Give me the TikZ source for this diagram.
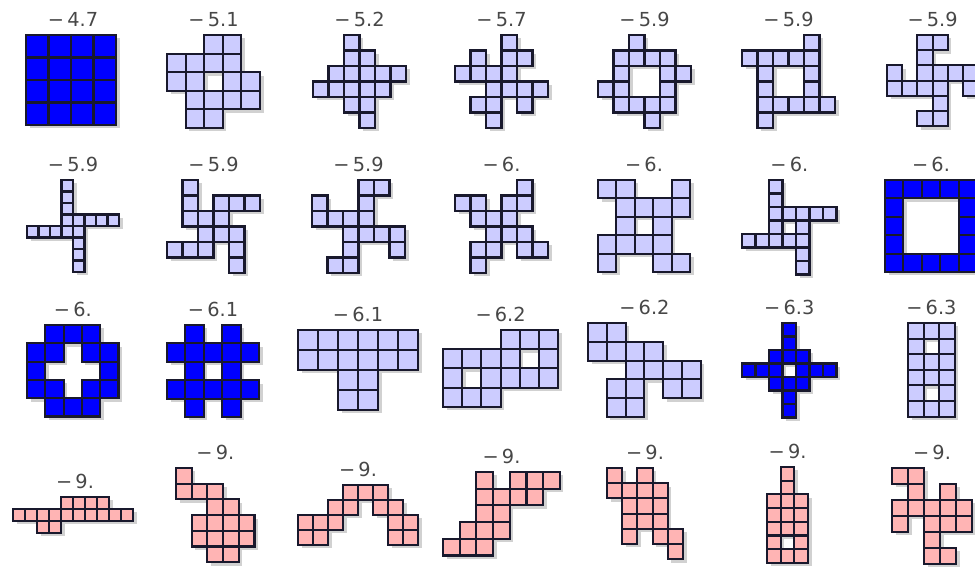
\documentclass[tikz,border=0pt]{standalone}
\usepackage{fontspec}
\setmainfont{DejaVu Sans}
\usetikzlibrary{positioning}

\definecolor{lavender}{RGB}{204,204,255}
\definecolor{rose}{RGB}{255,180,180}
\definecolor{edge}{RGB}{25,25,45}

% shadow first, then the cells on top
\newcommand{\polyo}[4]{%
  \begin{scope}[shift={#1}]
    \foreach \i/\j in {#4}
      \fill[shade] ({\i*#2+3.5},{\j*#2+3.5}) rectangle +(#2,#2);
    \foreach \i/\j in {#4}
      \draw[#3] ({\i*#2},{\j*#2}) rectangle +(#2,#2);
  \end{scope}}

\begin{document}
\begin{tikzpicture}[x=0.02cm, y=-0.02cm,
  cell/.style={draw=edge, line width=1.2pt},
  lav/.style={cell, fill=lavender},
  blu/.style={cell, fill=blue},
  pnk/.style={cell, fill=rose},
  shade/.style={fill=black!18},
  score/.style={font=\fontsize{11}{13}\selectfont, text=black!72, inner sep=0pt, anchor=base}
]
\useasboundingbox (0,0) rectangle (975,567);
\clip (0,0) rectangle (975,567);

% row 1
\polyo{(26,35)}{22.5}{blu}{0/0,1/0,2/0,3/0,0/1,1/1,2/1,3/1,0/2,1/2,2/2,3/2,0/3,1/3,2/3,3/3}
\polyo{(167,35)}{18.6}{lav}{2/0,3/0,0/1,1/1,2/1,3/1,0/2,1/2,3/2,4/2,1/3,2/3,3/3,4/3,1/4,2/4}
\polyo{(313,35)}{15.5}{lav}{2/0,2/1,3/1,1/2,2/2,3/2,4/2,5/2,0/3,1/3,2/3,3/3,4/3,2/4,3/4,3/5}
\polyo{(455,35)}{15.5}{lav}{3/0,1/1,3/1,4/1,0/2,1/2,2/2,3/2,2/3,3/3,4/3,5/3,1/4,2/4,4/4,2/5}
\polyo{(598,35)}{15.5}{lav}{2/0,1/1,2/1,3/1,4/1,1/2,4/2,5/2,0/3,1/3,4/3,1/4,2/4,3/4,4/4,3/5}
\polyo{(742,35)}{15.5}{lav}{4/0,0/1,1/1,2/1,3/1,4/1,1/2,4/2,1/3,4/3,1/4,2/4,3/4,4/4,5/4,1/5}
\polyo{(887,35)}{15.2}{lav}{2/0,3/0,2/1,0/2,2/2,3/2,4/2,5/2,0/3,1/3,2/3,3/3,5/3,3/4,2/5,3/5}

% row 2
\polyo{(27,180)}{11.5}{lav}{3/0,3/1,3/2,3/3,4/3,5/3,6/3,7/3,0/4,1/4,2/4,3/4,4/4,4/5,4/6,4/7}
\polyo{(167,180)}{15.5}{lav}{1/0,1/1,3/1,4/1,5/1,1/2,2/2,3/2,2/3,3/3,4/3,0/4,1/4,2/4,4/4,4/5}
\polyo{(312,180)}{15.5}{lav}{3/0,4/0,0/1,3/1,0/2,1/2,2/2,3/2,2/3,3/3,4/3,5/3,2/4,5/4,1/5,2/5}
\polyo{(455,180)}{15.5}{lav}{4/0,0/1,1/1,3/1,4/1,1/2,2/2,3/2,2/3,3/3,4/3,1/4,2/4,4/4,5/4,1/5}
\polyo{(598,180)}{18.4}{lav}{0/0,1/0,4/0,1/1,2/1,3/1,4/1,1/2,3/2,0/3,1/3,2/3,3/3,0/4,3/4,4/4}
\polyo{(742,180)}{13.5}{lav}{2/0,2/1,2/2,3/2,4/2,5/2,6/2,2/3,4/3,0/4,1/4,2/4,3/4,4/4,4/5,4/6}
\polyo{(885,180)}{18.4}{blu}{0/0,1/0,2/0,3/0,4/0,0/1,4/1,0/2,4/2,0/3,4/3,0/4,1/4,2/4,3/4,4/4}

% row 3
\polyo{(27,325)}{18.3}{blu}{1/0,2/0,3/0,0/1,1/1,3/1,4/1,0/2,4/2,0/3,1/3,3/3,4/3,1/4,2/4,3/4}
\polyo{(167,325)}{18.4}{blu}{1/0,3/0,0/1,1/1,2/1,3/1,4/1,1/2,3/2,0/3,1/3,2/3,3/3,4/3,1/4,3/4}
\polyo{(298,330)}{20}{lav}{0/0,1/0,2/0,3/0,4/0,5/0,0/1,1/1,2/1,3/1,4/1,5/1,2/2,3/2,2/3,3/3}
\polyo{(443,330)}{19.2}{lav}{3/0,4/0,5/0,0/1,1/1,2/1,3/1,5/1,0/2,2/2,3/2,4/2,5/2,0/3,1/3,2/3}
\polyo{(588,323)}{18.8}{lav}{0/0,1/0,0/1,1/1,2/1,3/1,2/2,3/2,4/2,5/2,1/3,2/3,4/3,5/3,1/4,2/4}
\polyo{(742,323)}{13.5}{blu}{3/0,3/1,2/2,3/2,4/2,0/3,1/3,2/3,4/3,5/3,6/3,2/4,3/4,4/4,3/5,3/6}
\polyo{(908,323)}{15.6}{lav}{0/0,1/0,2/0,0/1,2/1,0/2,1/2,2/2,0/3,1/3,2/3,0/4,2/4,0/5,1/5,2/5}

% row 4
\polyo{(13,497)}{12}{pnk}{4/0,5/0,6/0,7/0,0/1,1/1,2/1,3/1,4/1,5/1,6/1,7/1,8/1,9/1,2/2,3/2}
\polyo{(176,468)}{15.7}{pnk}{0/0,0/1,1/1,2/1,2/2,3/2,1/3,2/3,3/3,4/3,1/4,2/4,3/4,4/4,2/5,3/5}
\polyo{(298,485)}{15}{pnk}{3/0,4/0,5/0,2/1,3/1,5/1,6/1,0/2,1/2,2/2,6/2,7/2,0/3,1/3,6/3,7/3}
\polyo{(443,472)}{16.7}{pnk}{2/0,4/0,5/0,6/0,2/1,3/1,4/1,5/1,2/2,3/2,1/3,2/3,3/3,0/4,1/4,2/4}
\polyo{(607,468)}{15.2}{pnk}{0/0,2/0,0/1,1/1,2/1,3/1,1/2,2/2,3/2,1/3,2/3,3/3,1/4,3/4,4/4,4/5}
\polyo{(767,467)}{13.7}{pnk}{1/0,1/1,0/2,1/2,2/2,0/3,1/3,2/3,0/4,1/4,2/4,0/5,2/5,0/6,1/6,2/6}
\polyo{(892,468)}{16}{pnk}{0/0,1/0,1/1,3/1,0/2,1/2,2/2,3/2,4/2,0/3,2/3,3/3,4/3,2/4,2/5,3/5}

% scores
\node[score] (v1) at (73,27) {−\,4.7};
\node[score] (v2) at (213.5,27) {−\,5.1};
\node[score] (v3) at (359.5,27) {−\,5.2};
\node[score] (v4) at (501.5,27) {−\,5.7};
\node[score] (v5) at (644.5,27) {−\,5.9};
\node[score] (v6) at (788.5,27) {−\,5.9};
\node[score] (v7) at (932.6,27) {−\,5.9};
\node[score] (v8) at (73,172) {−\,5.9};
\node[score] (v9) at (213.5,172) {−\,5.9};
\node[score] (v10) at (358.5,172) {−\,5.9};
\node[score] (v11) at (501.5,172) {−\,6.};
\node[score] (v12) at (644,172) {−\,6.};
\node[score] (v13) at (789.3,172) {−\,6.};
\node[score] (v14) at (931,172) {−\,6.};
\node[score] (v15) at (72.8,317) {−\,6.};
\node[score] (v16) at (213,317) {−\,6.1};
\node[score] (v17) at (358,322) {−\,6.1};
\node[score] (v18) at (500.6,322) {−\,6.2};
\node[score] (v19) at (644.4,315) {−\,6.2};
\node[score] (v20) at (789.3,315) {−\,6.3};
\node[score] (v21) at (931.4,315) {−\,6.3};
\node[score] (v22) at (75,489) {−\,9.};
\node[score] (v23) at (215.3,460) {−\,9.};
\node[score] (v24) at (358,477) {−\,9.};
\node[score] (v25) at (501.5,464) {−\,9.};
\node[score] (v26) at (645,460) {−\,9.};
\node[score] (v27) at (787.6,459) {−\,9.};
\node[score] (v28) at (932,460) {−\,9.};
\end{tikzpicture}
\end{document}
